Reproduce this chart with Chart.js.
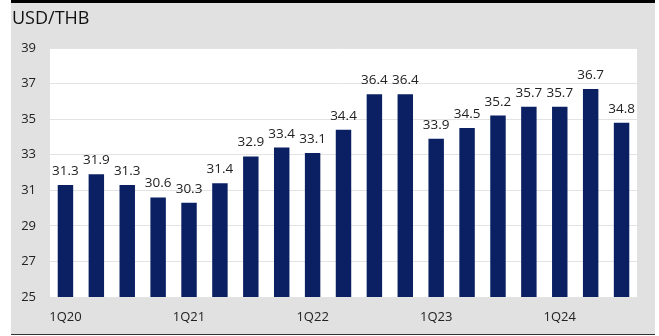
<!DOCTYPE html>
<html>
<head>
<meta charset="utf-8">
<script src="https://cdn.jsdelivr.net/npm/chart.js@4.4.1/dist/chart.umd.min.js"></script>
<style>
  html, body { margin: 0; padding: 0; background: #fff; }
  body { width: 659px; height: 336px; position: relative; overflow: hidden; }
  #panel {
    position: absolute; left: 11px; top: 0; width: 644px; height: 331px;
    background: #e1e1e1; border-top: 3px solid #000; border-bottom: 1px solid #333;
  }
  #fx { position: absolute; left: 0; top: 0; }
</style>
</head>
<body>
<div id="panel"></div>
<canvas id="fx" width="659" height="336"></canvas>
<script>
// quarterly USD/THB averages
const quarters = [
  '1Q20', '2Q20', '3Q20', '4Q20',
  '1Q21', '2Q21', '3Q21', '4Q21',
  '1Q22', '2Q22', '3Q22', '4Q22',
  '1Q23', '2Q23', '3Q23', '4Q23',
  '1Q24', '2Q24', '3Q24'
];
const usdThb = [
  31.3, 31.9, 31.3, 30.6,
  30.3, 31.4, 32.9, 33.4,
  33.1, 34.4, 36.4, 36.4,
  33.9, 34.5, 35.2, 35.7,
  35.7, 36.7, 34.8
];
const yTicks = [25, 27, 29, 31, 33, 35, 37, 39];

const FONT = '"Open Sans", "Noto Sans", sans-serif';
const NAVY = '#0a2063';

// white plot background + heading
const plotBg = {
  id: 'plotBg',
  beforeDraw(chart) {
    const { ctx, chartArea: a } = chart;
    ctx.save();
    ctx.fillStyle = '#fff';
    ctx.fillRect(a.left, a.top, a.right - a.left, a.bottom - a.top);
    ctx.fillStyle = '#111';
    ctx.font = '18px ' + FONT;
    ctx.textBaseline = 'alphabetic';
    ctx.fillText('USD/THB', 12, 24);
    ctx.restore();
  }
};

// value labels above each bar
const barValues = {
  id: 'barValues',
  afterDatasetsDraw(chart) {
    const { ctx } = chart;
    const meta = chart.getDatasetMeta(0);
    ctx.save();
    ctx.fillStyle = '#222';
    ctx.font = '13.5px ' + FONT;
    ctx.textAlign = 'center';
    ctx.textBaseline = 'alphabetic';
    meta.data.forEach((bar, i) => {
      ctx.fillText(usdThb[i].toFixed(1), bar.x, bar.y - 10);
    });
    ctx.restore();
  }
};

new Chart(document.getElementById('fx'), {
  type: 'bar',
  data: {
    labels: quarters,
    datasets: [{
      data: usdThb,
      backgroundColor: NAVY,
      borderWidth: 0,
      barPercentage: 0.5,
      categoryPercentage: 1.0
    }]
  },
  options: {
    responsive: false,
    animation: false,
    layout: { padding: { left: 20, right: 22, top: 48, bottom: 0 } },
    plugins: {
      legend: { display: false },
      tooltip: { enabled: false }
    },
    scales: {
      x: {
        afterFit(s) { s.height = 39; },
        grid: { display: false, drawTicks: false },
        border: { display: false },
        ticks: {
          autoSkip: false,
          maxRotation: 0,
          padding: 12,
          color: '#222',
          font: { family: FONT, size: 13 },
          callback: (v, i) => (i % 4 === 0 ? quarters[i] : '')
        }
      },
      y: {
        min: 25,
        max: 39,
        afterFit(s) { s.width = 30; },
        afterBuildTicks(s) { s.ticks = yTicks.map(v => ({ value: v })); },
        grid: { color: '#e3e3e3', lineWidth: 1, drawTicks: false },
        border: { display: false },
        ticks: {
          padding: 14,
          color: '#222',
          font: { family: FONT, size: 13 }
        }
      }
    }
  },
  plugins: [plotBg, barValues]
});
</script>
</body>
</html>
